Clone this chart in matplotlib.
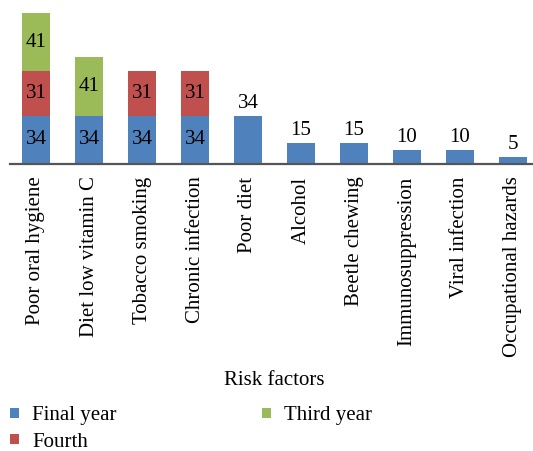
import matplotlib
matplotlib.use("Agg")
import matplotlib.pyplot as plt
from matplotlib.patches import Patch
import numpy as np

categories = ["Poor oral hygiene", "Diet low vitamin C", "Tobacco smoking", "Chronic infection",
              "Poor diet", "Alcohol", "Beetle chewing", "Immunosuppression", "Viral infection",
              "Occupational hazards"]
final_year = [34, 34, 34, 34, 34, 15, 15, 10, 10, 5]
fourth = [31, 0, 31, 31, 0, 0, 0, 0, 0, 0]
third_year = [41, 41, 0, 0, 0, 0, 0, 0, 0, 0]
series_names = ["Final year", "Fourth", "Third year"]
colors = ["#4F81BD", "#C0504D", "#9BBB59"]

plt.rcParams['font.family'] = ['Liberation Serif', 'DejaVu Serif']
FS = 15

W, H = 533, 451
fig = plt.figure(figsize=(W / 100, H / 100), dpi=100)
ax = fig.add_axes([9.5 / W, (H - 164) / H, 530 / W, 164 / H])

x = np.arange(len(categories))
series = [final_year, fourth, third_year]
bottom = np.zeros(len(categories))
nseg = np.sum([np.array(s) > 0 for s in series], axis=0)
for vals, col in zip(series, colors):
    vals = np.array(vals, dtype=float)
    ax.bar(x, vals, bottom=bottom, width=0.53, color=col, zorder=2)
    for i, v in enumerate(vals):
        if v <= 0:
            continue
        if nseg[i] > 1:
            ax.text(x[i], bottom[i] + v / 2, f"{int(v)}", ha="center", va="center",
                    fontsize=FS, color="black", zorder=3)
        else:
            ax.text(x[i], bottom[i] + v + 2, f"{int(v)}", ha="center", va="bottom",
                    fontsize=FS, color="black", zorder=3)
    bottom += vals

ax.set_xlim(-0.5, len(categories) - 0.5)
ax.set_ylim(0, 115)
ax.set_yticks([])
ax.set_xticks(x)
ax.set_xticklabels(categories, rotation=90, fontsize=FS)
ax.tick_params(axis="x", length=0, pad=9)
for s in ["top", "right", "left"]:
    ax.spines[s].set_visible(False)
ax.spines["bottom"].set_color("#555555")
ax.spines["bottom"].set_linewidth(1.6)
ax.set_xlabel("Risk factors", fontsize=FS, labelpad=10)

handles = [Patch(facecolor=c, edgecolor="none") for c in colors]
fig.legend(handles, series_names, loc="upper left", bbox_to_anchor=(4 / W, (H - 400) / H),
           ncol=2, frameon=False, fontsize=FS, handlelength=0.4, handleheight=0.4,
           handletextpad=0.65, columnspacing=7.0, labelspacing=0.35, borderaxespad=0,
           borderpad=0.3)

fig.savefig("out.png", dpi=100)
